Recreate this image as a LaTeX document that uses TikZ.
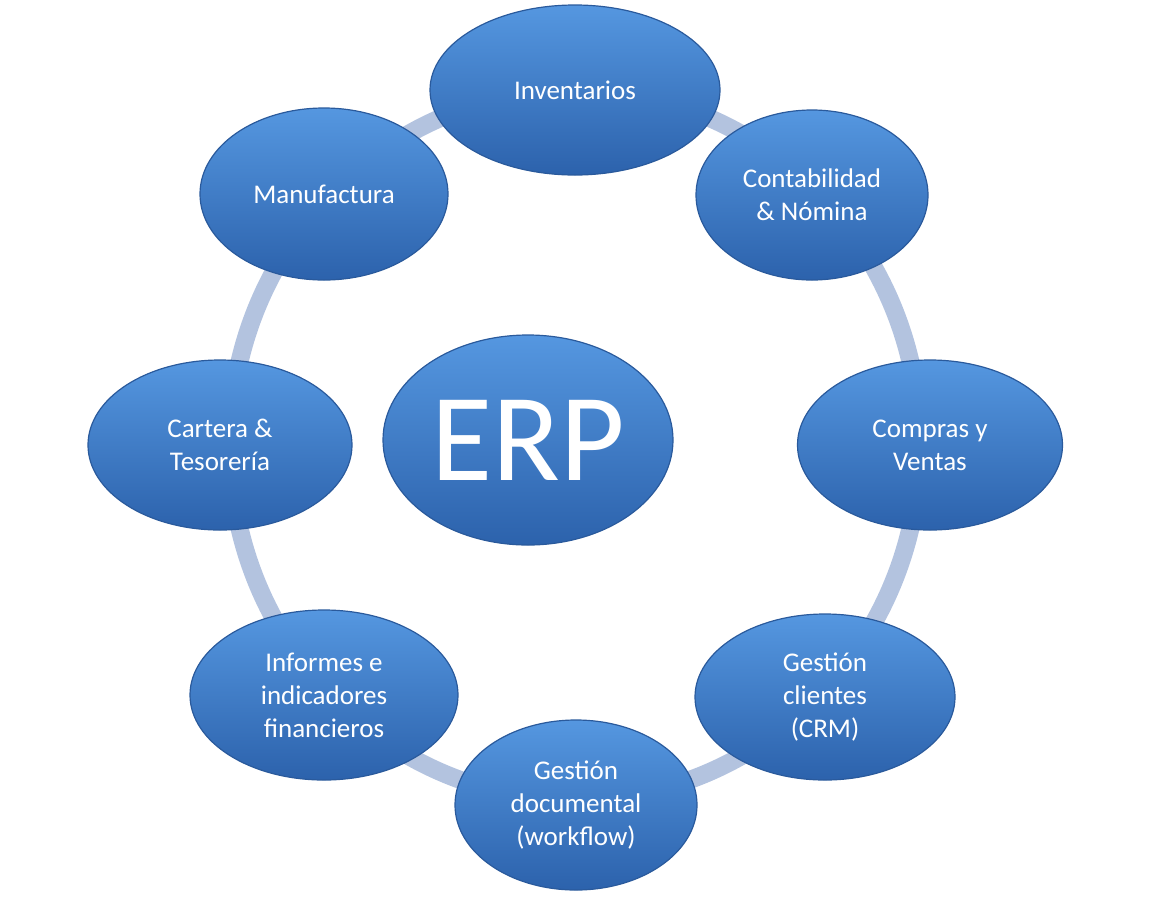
\documentclass[tikz,border=0pt]{standalone}
\usepackage{fontspec}
\setmainfont{Carlito}
\usetikzlibrary{positioning,shapes.geometric}
\definecolor{ringblue}{HTML}{B3C3DF}
\definecolor{topblue}{HTML}{5597E0}
\definecolor{botblue}{HTML}{2C62AC}
\definecolor{edgeblue}{HTML}{2A5A9C}
\tikzstyle{module}=[ellipse, draw=edgeblue, line width=1.2, top color=topblue, bottom color=botblue, text=white, align=center, font=\fontsize{27}{33}\selectfont, inner sep=0pt]
\tikzstyle{ring}=[draw=ringblue, line width=18]

\begin{document}
\begin{tikzpicture}[x=1pt, y=-1pt]
    \useasboundingbox (0,0) rectangle (1151,898);

    \coordinate (mid) at (575,445);
    \draw[ring] (mid) ellipse[x radius=345, y radius=355];

    \node[module, minimum width=290, minimum height=170] (inv) at (575,90) {Inventarios};
    \node[module, minimum width=232, minimum height=170] (cont) at (812,195) {Contabilidad\\\& Nómina};
    \node[module, minimum width=265, minimum height=170] (comp) at (930,445) {Compras y\\Ventas};
    \node[module, minimum width=260, minimum height=166] (crm) at (825,697) {Gestión\\clientes\\(CRM)};
    \node[module, minimum width=242, minimum height=170] (doc) at (576,805) {Gestión\\documental\\(workflow)};
    \node[module, minimum width=268, minimum height=170] (inf) at (324,695) {Informes e\\indicadores\\financieros};
    \node[module, minimum width=264, minimum height=170] (cart) at (220,445) {Cartera \&\\Tesorería};
    \node[module, minimum width=248, minimum height=172] (manu) at (324,194) {Manufactura};

    \node[module, minimum width=290, minimum height=210, font=\fontsize{125}{130}\selectfont] (erp) at (528,440) {ERP};

\end{tikzpicture}
\end{document}
